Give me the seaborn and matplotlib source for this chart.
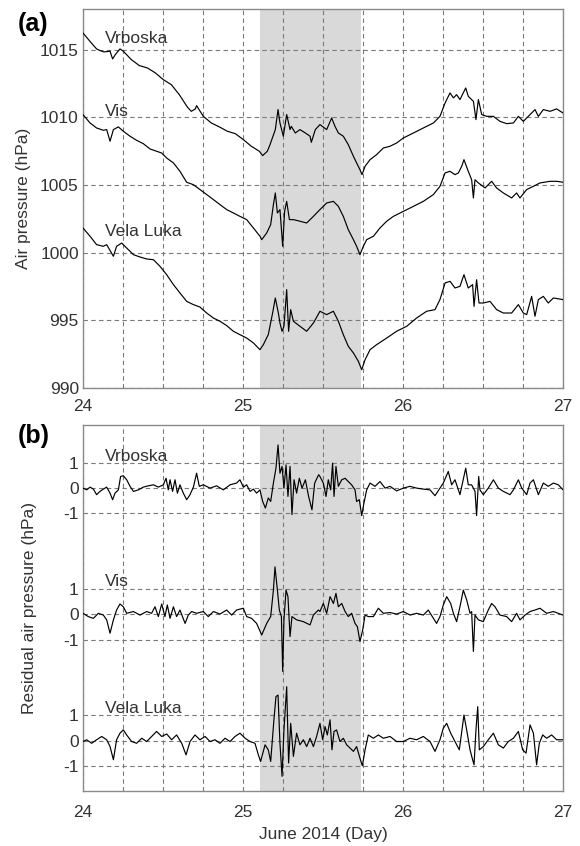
import numpy as np
import pandas as pd
import matplotlib
matplotlib.use("Agg")
import matplotlib.pyplot as plt
import seaborn as sns

# ---------------- data ----------------
# Panel (a): air pressure (hPa)
vrb_t = [24.00, 24.052, 24.085, 24.102, 24.131, 24.169, 24.185, 24.202, 24.231, 24.252,
         24.302, 24.352, 24.402, 24.452, 24.502, 24.552, 24.602, 24.652, 24.677, 24.702,
         24.71, 24.752, 24.802, 24.852, 24.902, 24.952, 25.002, 25.052, 25.102, 25.123,
         25.152, 25.169, 25.202, 25.219, 25.231, 25.252, 25.273, 25.294, 25.302, 25.327,
         25.356, 25.39, 25.419, 25.427, 25.452, 25.481, 25.523, 25.554, 25.575, 25.596,
         25.627, 25.658, 25.69, 25.71, 25.731, 25.744, 25.763, 25.794, 25.835, 25.877,
         25.919, 25.96, 26.002, 26.065, 26.127, 26.19, 26.231, 26.263, 26.294, 26.315,
         26.335, 26.356, 26.392, 26.408, 26.44, 26.456, 26.471, 26.492, 26.523, 26.565,
         26.606, 26.648, 26.69, 26.721, 26.752, 26.794, 26.825, 26.846, 26.877, 26.919,
         26.96, 27.0]
vrb_p = [1016.23, 1015.49, 1015.05, 1014.95, 1014.83, 1014.88, 1014.31, 1014.63, 1015.05, 1014.88,
         1014.26, 1013.82, 1013.65, 1013.28, 1012.78, 1012.41, 1011.67, 1010.76, 1010.44, 1010.62,
         1010.86, 1010.07, 1009.58, 1009.29, 1008.97, 1008.79, 1008.35, 1007.86, 1007.49, 1007.17,
         1007.49, 1007.98, 1009.09, 1010.57, 1009.58, 1008.60, 1010.20, 1009.09, 1009.33, 1008.84,
         1009.09, 1008.84, 1008.60, 1008.15, 1009.09, 1009.46, 1009.09, 1009.95, 1009.33, 1008.84,
         1008.60, 1007.98, 1007.12, 1006.63, 1006.13, 1005.76, 1006.38, 1006.87, 1007.24, 1007.73,
         1007.86, 1008.10, 1008.47, 1008.84, 1009.21, 1009.58, 1010.07, 1011.06, 1011.80, 1011.43,
         1011.67, 1011.31, 1012.17, 1011.55, 1011.18, 1009.83, 1011.31, 1010.20, 1010.07, 1010.07,
         1009.70, 1009.53, 1009.58, 1010.07, 1009.70, 1010.20, 1010.57, 1010.07, 1010.57, 1010.44,
         1010.62, 1010.32]

vis_t = [24.00, 24.044, 24.085, 24.127, 24.148, 24.169, 24.19, 24.221, 24.252, 24.294,
         24.335, 24.377, 24.419, 24.46, 24.492, 24.523, 24.565, 24.606, 24.648, 24.69,
         24.731, 24.773, 24.815, 24.856, 24.898, 24.94, 24.981, 25.023, 25.065, 25.106,
         25.117, 25.148, 25.173, 25.19, 25.202, 25.215, 25.231, 25.248, 25.26, 25.273,
         25.29, 25.315, 25.356, 25.398, 25.44, 25.481, 25.523, 25.565, 25.596, 25.627,
         25.658, 25.69, 25.71, 25.731, 25.752, 25.773, 25.815, 25.856, 25.898, 25.94,
         26.002, 26.065, 26.127, 26.19, 26.231, 26.263, 26.294, 26.325, 26.346, 26.367,
         26.381, 26.408, 26.429, 26.44, 26.45, 26.471, 26.513, 26.554, 26.585, 26.627,
         26.679, 26.71, 26.731, 26.773, 26.815, 26.856, 26.919, 26.96, 27.0]
vis_p = [1010.20, 1009.58, 1009.21, 1009.04, 1009.09, 1008.23, 1009.09, 1009.29, 1008.97, 1008.60,
         1008.30, 1008.05, 1007.66, 1007.49, 1007.36, 1006.99, 1006.63, 1006.01, 1005.20, 1005.02,
         1004.66, 1004.29, 1003.92, 1003.55, 1003.18, 1002.93, 1002.68, 1002.44, 1001.82, 1001.21,
         1000.96, 1001.45, 1002.07, 1003.55, 1004.41, 1002.93, 1003.18, 1000.47, 1003.05, 1003.79,
         1002.44, 1002.44, 1002.32, 1002.19, 1002.68, 1003.18, 1003.67, 1003.79, 1003.42, 1002.68,
         1001.70, 1000.96, 1000.47, 999.85, 1000.47, 1000.96, 1001.21, 1001.82, 1002.32, 1002.68,
         1003.05, 1003.42, 1003.79, 1004.29, 1004.90, 1005.89, 1006.01, 1005.76, 1005.89, 1006.38,
         1006.87, 1006.01, 1005.39, 1004.04, 1005.39, 1005.15, 1004.78, 1005.27, 1004.78, 1004.41,
         1004.04, 1004.41, 1004.04, 1004.66, 1004.90, 1005.15, 1005.27, 1005.27, 1005.20]

vel_t = [24.00, 24.044, 24.085, 24.127, 24.148, 24.19, 24.21, 24.242, 24.273, 24.315,
         24.356, 24.398, 24.44, 24.481, 24.523, 24.565, 24.606, 24.648, 24.69, 24.731,
         24.773, 24.815, 24.856, 24.898, 24.94, 24.981, 25.023, 25.065, 25.106, 25.127,
         25.158, 25.185, 25.202, 25.221, 25.231, 25.244, 25.256, 25.273, 25.285, 25.298,
         25.315, 25.356, 25.398, 25.44, 25.481, 25.523, 25.565, 25.596, 25.627, 25.658,
         25.69, 25.721, 25.742, 25.763, 25.794, 25.835, 25.898, 25.96, 26.023, 26.085,
         26.148, 26.2, 26.231, 26.263, 26.294, 26.325, 26.356, 26.381, 26.408, 26.435,
         26.444, 26.46, 26.475, 26.502, 26.544, 26.585, 26.627, 26.679, 26.721, 26.752,
         26.773, 26.804, 26.825, 26.846, 26.877, 26.908, 26.94, 27.0]
vel_p = [1001.82, 1001.21, 1000.59, 1000.47, 1000.59, 999.73, 1000.47, 1000.71, 1000.34, 999.85,
         999.68, 999.53, 999.48, 998.99, 998.37, 997.64, 997.02, 996.40, 996.16, 995.98,
         995.54, 995.17, 994.93, 994.61, 994.19, 993.94, 993.69, 993.33, 992.83, 993.20,
         993.94, 995.54, 996.65, 995.54, 994.80, 994.19, 994.56, 997.27, 994.19, 995.79,
         994.93, 994.56, 994.19, 994.80, 995.67, 995.42, 995.67, 994.93, 993.94, 993.08,
         992.59, 991.97, 991.35, 992.09, 992.83, 993.20, 993.69, 994.19, 994.56, 995.17,
         995.67, 995.79, 996.53, 997.76, 997.88, 997.39, 997.51, 998.37, 997.39, 997.64,
         996.03, 998.00, 996.28, 996.28, 996.40, 995.79, 995.54, 995.54, 996.16, 995.54,
         995.42, 996.77, 995.30, 996.53, 996.77, 996.28, 996.65, 996.53]

# Panel (b): residual air pressure (hPa)
rvrb_t = [24.00, 24.023, 24.044, 24.065, 24.085, 24.106, 24.127, 24.148, 24.169, 24.185,
          24.2, 24.221, 24.235, 24.252, 24.273, 24.294, 24.315, 24.346, 24.377, 24.408,
          24.44, 24.471, 24.502, 24.519, 24.533, 24.544, 24.56, 24.575, 24.59, 24.606,
          24.627, 24.648, 24.669, 24.69, 24.71, 24.727, 24.752, 24.794, 24.835, 24.877,
          24.919, 24.96, 24.981, 25.002, 25.023, 25.044, 25.065, 25.085, 25.106, 25.123,
          25.14, 25.158, 25.173, 25.19, 25.206, 25.219, 25.231, 25.244, 25.256, 25.269,
          25.281, 25.294, 25.306, 25.319, 25.335, 25.352, 25.369, 25.39, 25.41, 25.431,
          25.448, 25.473, 25.481, 25.502, 25.519, 25.533, 25.548, 25.56, 25.569, 25.581,
          25.596, 25.617, 25.638, 25.658, 25.679, 25.7, 25.71, 25.727, 25.742, 25.756,
          25.773, 25.794, 25.825, 25.856, 25.888, 25.919, 25.96, 26.002, 26.044, 26.085,
          26.127, 26.169, 26.2, 26.231, 26.252, 26.283, 26.304, 26.325, 26.356, 26.392,
          26.408, 26.429, 26.45, 26.46, 26.473, 26.481, 26.502, 26.533, 26.565, 26.596,
          26.627, 26.669, 26.69, 26.721, 26.742, 26.773, 26.794, 26.815, 26.846, 26.877,
          26.908, 26.94, 26.971, 27.0]
rvrb_p = [0.00, -0.07, 0.04, -0.04, -0.26, -0.13, -0.04, 0.04, -0.20, -0.46,
          -0.20, -0.07, 0.46, 0.49, 0.33, 0.07, -0.13, -0.07, 0.04, 0.09,
          0.13, 0.04, 0.13, 0.39, -0.07, 0.33, -0.13, 0.33, -0.20, 0.13,
          -0.20, -0.46, -0.26, 0.04, 0.59, 0.07, 0.13, 0.00, 0.09, -0.07,
          0.13, 0.20, 0.33, 0.04, 0.13, -0.13, -0.04, -0.20, -0.07, -0.53,
          -0.79, -0.39, -0.53, 0.20, 0.79, 1.71, 0.59, 0.86, 0.00, 0.92,
          -0.33, 0.86, -1.05, 0.33, -0.20, 0.39, 0.00, 0.33, -0.33, -0.86,
          0.20, 0.53, 0.46, 0.20, -0.33, 0.33, -0.07, 0.99, -0.33, 0.86,
          0.07, 0.33, 0.39, 0.26, 0.13, -0.07, -0.53, -0.46, -1.09, -0.59,
          -0.07, 0.20, 0.07, 0.26, 0.00, 0.07, -0.11, 0.00, 0.07, 0.00,
          -0.04, -0.07, -0.30, 0.00, 0.20, 0.66, 0.13, 0.33, -0.26, 0.79,
          0.13, 0.13, -0.13, -1.09, 0.46, -0.07, -0.26, 0.00, 0.33, 0.00,
          -0.13, -0.26, -0.07, 0.33, 0.00, -0.26, 0.20, 0.33, -0.26, 0.20,
          0.07, 0.20, 0.13, -0.07]

rvis_t = [24.00, 24.033, 24.065, 24.096, 24.127, 24.148, 24.169, 24.19, 24.21, 24.231,
          24.252, 24.273, 24.315, 24.356, 24.398, 24.429, 24.45, 24.471, 24.492, 24.512,
          24.527, 24.544, 24.565, 24.585, 24.606, 24.638, 24.658, 24.679, 24.71, 24.752,
          24.783, 24.815, 24.856, 24.898, 24.929, 24.96, 25.002, 25.023, 25.054, 25.085,
          25.117, 25.148, 25.173, 25.19, 25.2, 25.215, 25.227, 25.24, 25.248, 25.256,
          25.269, 25.281, 25.294, 25.306, 25.335, 25.377, 25.419, 25.44, 25.471, 25.481,
          25.502, 25.523, 25.544, 25.565, 25.581, 25.596, 25.617, 25.638, 25.658, 25.679,
          25.7, 25.715, 25.731, 25.748, 25.763, 25.783, 25.815, 25.846, 25.877, 25.919,
          25.96, 26.002, 26.044, 26.085, 26.127, 26.158, 26.19, 26.21, 26.231, 26.252,
          26.273, 26.298, 26.315, 26.335, 26.356, 26.377, 26.398, 26.419, 26.429, 26.44,
          26.45, 26.471, 26.502, 26.533, 26.554, 26.575, 26.606, 26.648, 26.679, 26.71,
          26.731, 26.763, 26.794, 26.825, 26.856, 26.898, 26.94, 27.0]
rvis_p = [0.04, -0.09, -0.16, 0.04, -0.03, -0.22, -0.75, -0.22, 0.17, 0.41,
          0.30, 0.04, 0.11, -0.03, 0.11, 0.04, 0.30, -0.09, 0.41, -0.09,
          0.37, -0.16, 0.30, -0.09, 0.17, -0.36, -0.03, 0.11, 0.04, 0.11,
          -0.09, 0.11, 0.01, 0.17, -0.03, 0.17, 0.24, -0.09, -0.16, -0.36,
          -0.82, -0.36, -0.09, 0.96, 1.88, 0.96, 0.17, -0.09, -2.26, -0.22,
          0.96, 0.70, -0.88, -0.09, -0.22, -0.29, -0.42, -0.03, 0.17, 0.11,
          0.43, 0.04, 0.70, 0.43, 0.83, 0.30, 0.43, 0.11, -0.09, 0.04,
          -0.36, -0.49, -1.08, -0.62, -0.03, -0.09, -0.09, 0.24, 0.04, 0.07,
          0.01, 0.11, -0.03, 0.04, -0.03, 0.17, -0.16, -0.36, -0.09, 0.37,
          0.70, 0.43, 0.04, -0.29, 0.30, 0.96, 0.57, 0.04, 0.11, -1.47,
          -0.03, -0.22, -0.29, 0.17, 0.43, 0.30, -0.03, -0.09, -0.29, 0.04,
          -0.22, -0.03, 0.11, 0.17, 0.24, 0.04, 0.11, -0.03]

rvel_t = [24.00, 24.023, 24.054, 24.085, 24.117, 24.148, 24.169, 24.19, 24.21, 24.231,
          24.252, 24.273, 24.304, 24.335, 24.367, 24.398, 24.429, 24.46, 24.492, 24.523,
          24.554, 24.585, 24.617, 24.644, 24.669, 24.7, 24.731, 24.763, 24.794, 24.825,
          24.856, 24.888, 24.919, 24.95, 24.981, 25.013, 25.044, 25.075, 25.096, 25.11,
          25.138, 25.158, 25.173, 25.194, 25.206, 25.219, 25.231, 25.244, 25.256, 25.273,
          25.285, 25.298, 25.315, 25.335, 25.356, 25.377, 25.398, 25.419, 25.44, 25.46,
          25.481, 25.498, 25.513, 25.527, 25.544, 25.556, 25.569, 25.585, 25.606, 25.627,
          25.648, 25.669, 25.69, 25.71, 25.731, 25.746, 25.763, 25.783, 25.815, 25.846,
          25.877, 25.919, 25.96, 26.002, 26.044, 26.085, 26.127, 26.169, 26.2, 26.231,
          26.252, 26.273, 26.298, 26.325, 26.352, 26.381, 26.398, 26.419, 26.435, 26.444,
          26.456, 26.467, 26.477, 26.502, 26.533, 26.565, 26.596, 26.627, 26.658, 26.69,
          26.721, 26.748, 26.769, 26.794, 26.815, 26.835, 26.852, 26.873, 26.898, 26.929,
          26.96, 27.0]
rvel_p = [-0.04, 0.03, -0.11, 0.03, 0.16, 0.03, -0.24, -0.76, 0.03, 0.29,
          0.42, 0.22, -0.04, -0.11, 0.09, -0.04, 0.16, 0.36, 0.16, 0.26,
          0.03, 0.22, -0.11, -0.57, -0.04, 0.22, 0.03, 0.16, -0.04, 0.03,
          -0.11, 0.09, -0.04, 0.16, 0.29, 0.09, -0.04, -0.11, -0.57, -0.83,
          -0.17, -0.37, -0.83, 0.88, 1.74, 1.80, -0.11, -1.42, 0.42, 2.13,
          -0.89, 0.68, -0.63, 0.29, -0.17, 0.03, -0.24, 0.09, -0.24, 0.16,
          0.68, 0.03, 0.55, 0.22, 0.82, -0.37, 0.36, 0.42, -0.04, 0.09,
          -0.17, -0.30, -0.43, -0.24, -0.70, -1.00, -0.37, 0.22, 0.09, 0.22,
          0.09, 0.16, -0.04, -0.04, 0.09, 0.03, 0.16, -0.04, -0.43, 0.03,
          0.49, 0.68, 0.29, -0.04, -0.37, 1.01, 0.42, -0.37, -0.76, -0.96,
          0.42, 1.34, -0.37, -0.24, 0.03, 0.29, -0.17, -0.30, -0.04, 0.09,
          0.36, -0.37, -0.50, 0.62, 0.29, -0.96, -0.11, 0.22, 0.09, 0.22,
          0.03, 0.03]

stations = ["Vrboska", "Vis", "Vela Luka"]
resid_offsets = [10, 5, 0]
resid_ticks = [-1, 0, 1]
x_ticklabels = ["24", "25", "26", "27"]
event_span = (25.106, 25.74)

# ---------------- style ----------------
sns.set_style("white")
plt.rcParams["font.family"] = ["Liberation Sans", "DejaVu Sans"]
TXT = "#333333"
plt.rcParams.update({
    "text.color": TXT, "axes.labelcolor": TXT,
    "xtick.color": TXT, "ytick.color": TXT,
})

fig = plt.figure(figsize=(5.8, 8.46), dpi=100)
ax_a = fig.add_axes([83 / 580, 1 - 388 / 846, 480 / 580, 379 / 846])
ax_b = fig.add_axes([83 / 580, 1 - 791 / 846, 480 / 580, 366 / 846])

df_a = pd.concat([
    pd.DataFrame({"t": vrb_t, "p": vrb_p, "st": stations[0]}),
    pd.DataFrame({"t": vis_t, "p": vis_p, "st": stations[1]}),
    pd.DataFrame({"t": vel_t, "p": vel_p, "st": stations[2]}),
])
df_b = pd.concat([
    pd.DataFrame({"t": rvrb_t, "r": np.array(rvrb_p) + resid_offsets[0], "st": stations[0]}),
    pd.DataFrame({"t": rvis_t, "r": np.array(rvis_p) + resid_offsets[1], "st": stations[1]}),
    pd.DataFrame({"t": rvel_t, "r": np.array(rvel_p) + resid_offsets[2], "st": stations[2]}),
])

pal = {s: "black" for s in stations}
sns.lineplot(data=df_a, x="t", y="p", hue="st", palette=pal, estimator=None,
             legend=False, linewidth=0.85, ax=ax_a, zorder=3)
sns.lineplot(data=df_b, x="t", y="r", hue="st", palette=pal, estimator=None,
             legend=False, linewidth=0.85, ax=ax_b, zorder=3)

quarter = np.arange(24, 27.001, 0.25)
xlabels = [x_ticklabels[int(q - 24)] if abs(q - round(q)) < 1e-9 else "" for q in quarter]

for ax in (ax_a, ax_b):
    ax.axvspan(*event_span, color="#d9d9d9", lw=0, zorder=0.2)
    ax.set_xlim(24, 27)
    ax.set_xticks(quarter)
    ax.set_xticklabels(xlabels)
    ax.set_axisbelow(True)
    ax.grid(True, color="#7a7a7a", lw=0.8, linestyle=(0, (4, 3)))
    ax.tick_params(length=0, labelsize=12.5)
    for sp in ax.spines.values():
        sp.set_color("#8a8a8a")
        sp.set_linewidth(1.0)
    ax.set_xlabel("")
    ax.set_ylabel("")

ax_a.tick_params(axis="x", pad=8)
ax_a.tick_params(axis="y", pad=3)
ax_a.set_ylim(990, 1018)
ax_a.set_yticks([990, 995, 1000, 1005, 1010, 1015])

ax_b.tick_params(axis="x", pad=10)
ax_b.tick_params(axis="y", pad=3)
ax_b.set_ylim(-2, 12.5)
bt, bl = [], []
for off in resid_offsets[::-1]:
    for v in resid_ticks:
        bt.append(off + v)
        bl.append(str(v))
ax_b.set_yticks(bt)
ax_b.set_yticklabels(bl)

# station labels
for ax, ys in ((ax_a, [1015.85, 1010.46, 1001.54]), (ax_b, [11.25, 6.30, 1.28])):
    for s, y in zip(stations, ys):
        ax.text(24.1375, y, s, fontsize=12.5, va="center", ha="left", color=TXT, zorder=4)

fig.text(24 / 580, 1 - 198 / 846, "Air pressure (hPa)", rotation=90, fontsize=12.5,
         ha="center", va="center")
fig.text(30 / 580, 1 - 608 / 846, "Residual air pressure (hPa)", rotation=90, fontsize=12.5,
         ha="center", va="center")
fig.text(323 / 580, 1 - 834 / 846, "June 2014 (Day)", fontsize=12.5, ha="center", va="center")
fig.text(33 / 580, 1 - 24 / 846, "(a)", fontsize=18, fontweight="bold", ha="center",
         va="center", color="black")
fig.text(34 / 580, 1 - 436 / 846, "(b)", fontsize=18, fontweight="bold", ha="center",
         va="center", color="black")

fig.savefig("out.png", dpi=100)
